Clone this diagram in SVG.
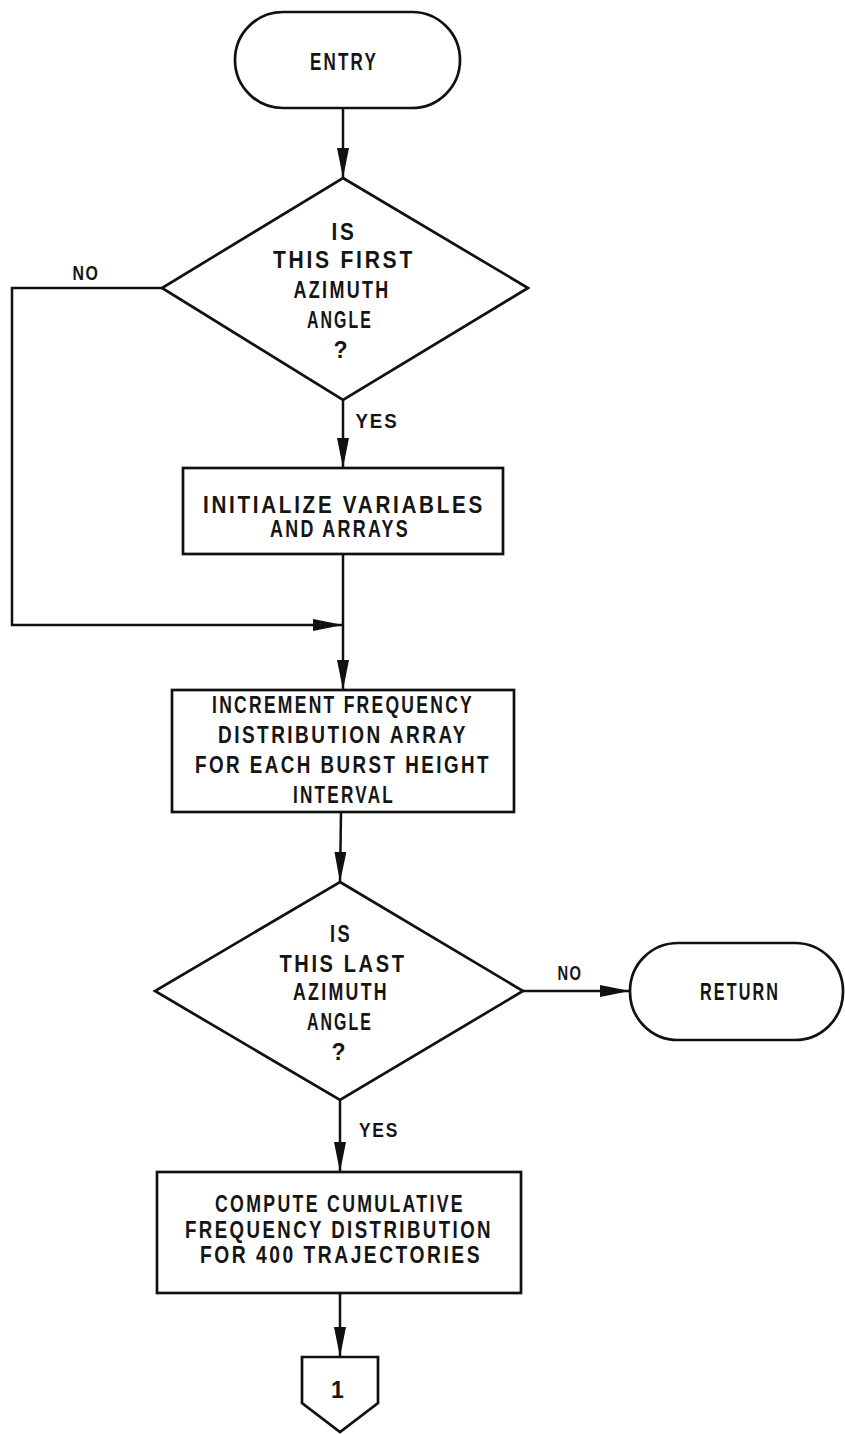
<svg xmlns="http://www.w3.org/2000/svg" width="845" height="1434" viewBox="0 0 845 1434">
<defs>
<style>
.s{fill:#fff;stroke:#111;stroke-width:2.7;}
.c{fill:none;stroke:#111;stroke-width:2.5;}
text{font-family:"Liberation Sans",Arial,sans-serif;font-weight:bold;font-size:23px;letter-spacing:3px;fill:#151515;text-anchor:middle;}
.lb{font-size:20px;letter-spacing:2px;}
</style>
<marker id="ah" viewBox="0 0 30 12" refX="30" refY="6" markerWidth="30" markerHeight="12" markerUnits="userSpaceOnUse" orient="auto">
<path d="M0,0 L30,6 L0,12 z" fill="#111"/>
</marker>
</defs>
<rect width="845" height="1434" fill="#fff"/>

<g id="connectors">
<line class="c" x1="343" y1="108" x2="343" y2="178" marker-end="url(#ah)"/>
<line class="c" x1="343" y1="400" x2="343" y2="468" marker-end="url(#ah)"/>
<line class="c" x1="343" y1="554" x2="343" y2="690" marker-end="url(#ah)"/>
<polyline class="c" points="162,288 12,288 12,625 343,625" marker-end="url(#ah)"/>
<line class="c" x1="341" y1="812" x2="340" y2="882" marker-end="url(#ah)"/>
<line class="c" x1="523" y1="991" x2="630" y2="991" marker-end="url(#ah)"/>
<line class="c" x1="340" y1="1100" x2="340" y2="1172" marker-end="url(#ah)"/>
<line class="c" x1="340" y1="1293" x2="340" y2="1357" marker-end="url(#ah)"/>
<text class="lb" x="86" y="280" textLength="27" lengthAdjust="spacingAndGlyphs">NO</text>
<text class="lb" x="377" y="428" textLength="43" lengthAdjust="spacingAndGlyphs">YES</text>
<text class="lb" x="570" y="980" textLength="25" lengthAdjust="spacingAndGlyphs">NO</text>
<text class="lb" x="379" y="1137" textLength="40" lengthAdjust="spacingAndGlyphs">YES</text>
</g>

<g id="entry">
<rect class="s" x="235" y="12" width="225" height="96" rx="48" ry="48"/>
<text x="344" y="70" textLength="68" lengthAdjust="spacingAndGlyphs">ENTRY</text>
</g>

<g id="decision-first">
<polygon class="s" points="343,178 528,288 343,400 162,288"/>
<text x="344" y="240" textLength="25" lengthAdjust="spacingAndGlyphs">IS</text>
<text x="344" y="268" textLength="142" lengthAdjust="spacingAndGlyphs">THIS FIRST</text>
<text x="342" y="298" textLength="97" lengthAdjust="spacingAndGlyphs">AZIMUTH</text>
<text x="340" y="328" textLength="66" lengthAdjust="spacingAndGlyphs">ANGLE</text>
<text x="342" y="358">?</text>
</g>

<g id="init">
<rect class="s" x="183" y="468" width="320" height="86"/>
<text x="344" y="513" textLength="282" lengthAdjust="spacingAndGlyphs">INITIALIZE VARIABLES</text>
<text x="340" y="537" textLength="140" lengthAdjust="spacingAndGlyphs">AND ARRAYS</text>
</g>

<g id="increment">
<rect class="s" x="172" y="690" width="342" height="122"/>
<text x="343" y="713" textLength="262" lengthAdjust="spacingAndGlyphs">INCREMENT FREQUENCY</text>
<text x="343" y="743" textLength="250" lengthAdjust="spacingAndGlyphs">DISTRIBUTION ARRAY</text>
<text x="343" y="773" textLength="296" lengthAdjust="spacingAndGlyphs">FOR EACH BURST HEIGHT</text>
<text x="344" y="803" textLength="102" lengthAdjust="spacingAndGlyphs">INTERVAL</text>
</g>

<g id="decision-last">
<polygon class="s" points="340,882 523,991 340,1100 155,991"/>
<text x="341" y="942" textLength="22" lengthAdjust="spacingAndGlyphs">IS</text>
<text x="343" y="972" textLength="127" lengthAdjust="spacingAndGlyphs">THIS LAST</text>
<text x="341" y="1000" textLength="96" lengthAdjust="spacingAndGlyphs">AZIMUTH</text>
<text x="340" y="1030" textLength="66" lengthAdjust="spacingAndGlyphs">ANGLE</text>
<text x="340" y="1060">?</text>
</g>

<g id="return">
<rect class="s" x="630" y="943" width="213" height="97" rx="48" ry="48"/>
<text x="740" y="1000" textLength="80" lengthAdjust="spacingAndGlyphs">RETURN</text>
</g>

<g id="compute">
<rect class="s" x="157" y="1172" width="364" height="121"/>
<text x="340" y="1212" textLength="250" lengthAdjust="spacingAndGlyphs">COMPUTE CUMULATIVE</text>
<text x="339" y="1238" textLength="308" lengthAdjust="spacingAndGlyphs">FREQUENCY DISTRIBUTION</text>
<text x="341" y="1263" textLength="282" lengthAdjust="spacingAndGlyphs">FOR 400 TRAJECTORIES</text>
</g>

<g id="offpage-1">
<polygon class="s" points="302,1357 378,1357 378,1403 340,1432 302,1403"/>
<text x="339" y="1398">1</text>
</g>
</svg>
